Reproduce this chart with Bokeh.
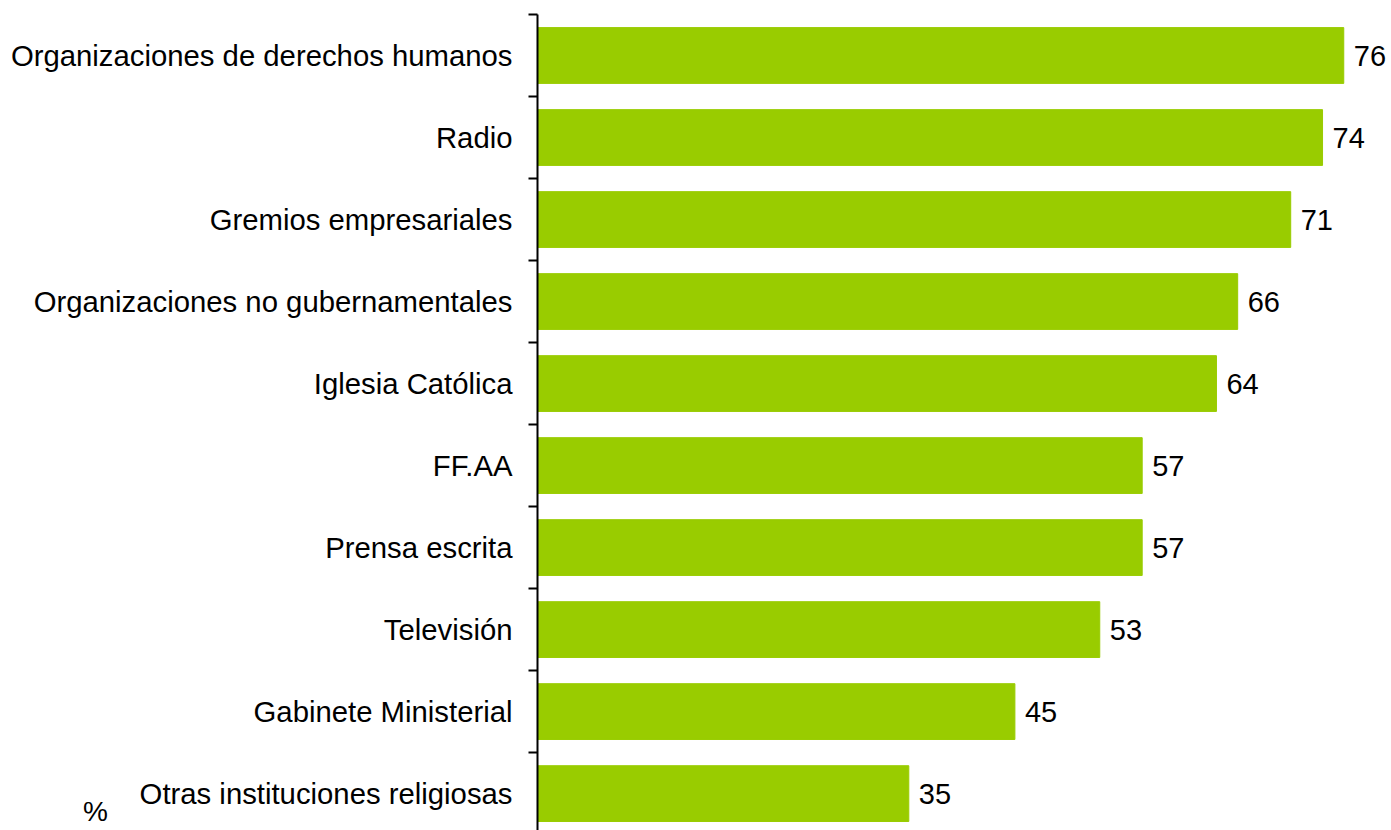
from bokeh.plotting import figure
from bokeh.models import Range1d, FixedTicker, ColumnDataSource
from bokeh.core.properties import value
from bokeh.embed import file_html
from bokeh.resources import INLINE

categories = [
    "Organizaciones de derechos humanos",
    "Radio",
    "Gremios empresariales",
    "Organizaciones no gubernamentales",
    "Iglesia Católica",
    "FF.AA",
    "Prensa escrita",
    "Televisión",
    "Gabinete Ministerial",
    "Otras instituciones religiosas",
]
values = [76, 74, 71, 66, 64, 57, 57, 53, 45, 35]
unit_label = "%"

n = len(categories)
ypos = [i + 0.5 for i in range(n)]
src = ColumnDataSource(dict(y=ypos, v=values, lbl=[str(v) for v in values]))

p = figure(width=1391, height=830, output_backend="svg", toolbar_location=None,
           x_range=Range1d(0, 80.5), y_range=Range1d(9.95, 0),
           min_border_left=537, min_border_right=0, min_border_top=14, min_border_bottom=0)
p.outline_line_color = None
p.grid.visible = False
p.xaxis.visible = False

p.hbar(y="y", right="v", left=0, height=0.68, source=src, color="#99CC00")
p.text(x="v", y="y", text="lbl", source=src, x_offset=10, text_baseline="middle",
       text_align="left", text_font=value("Liberation Sans"), text_font_size="29px",
       text_color="black")

ax = p.yaxis[0]
ax.ticker = FixedTicker(ticks=ypos, minor_ticks=list(range(n + 1)))
ax.major_label_overrides = {y: c for y, c in zip(ypos, categories)}
ax.major_tick_out = 0
ax.major_tick_in = 0
ax.minor_tick_out = 9
ax.minor_tick_in = 0
ax.minor_tick_line_color = "black"
ax.minor_tick_line_width = 2
ax.axis_line_color = "black"
ax.axis_line_width = 2
ax.major_label_standoff = 16
ax.major_label_text_font = "Liberation Sans"
ax.major_label_text_font_size = "29.3px"
ax.major_label_text_color = "black"

ax.axis_label = unit_label + "\n "
ax.axis_label_orientation = "horizontal"
ax.axis_label_align = "end"
ax.axis_label_standoff = -100
ax.axis_label_text_font = "Liberation Sans"
ax.axis_label_text_font_size = "28px"
ax.axis_label_text_font_style = "normal"
ax.axis_label_text_color = "black"

open("out.html", "w").write(file_html(p, INLINE))
